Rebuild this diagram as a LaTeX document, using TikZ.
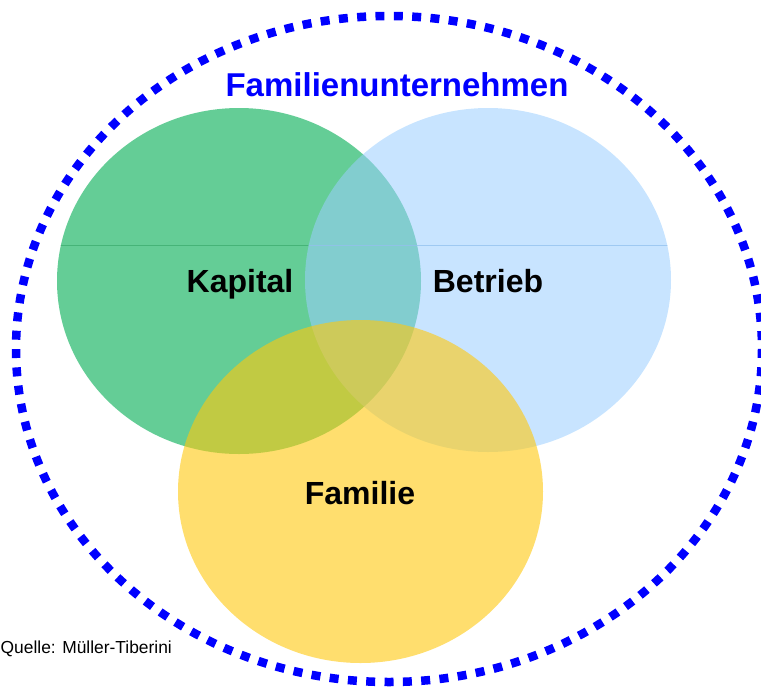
\documentclass[tikz,border=0pt]{standalone}
\usepackage{fontspec}
\setmainfont{Liberation Sans}
\definecolor{kapitalgreen}{RGB}{100,205,150}
\definecolor{kapitalline}{RGB}{70,180,120}
\definecolor{betriebblue}{RGB}{155,206,255}
\definecolor{betriebline}{RGB}{150,195,240}
\definecolor{familieyellow}{RGB}{255,200,13}
\definecolor{titleblue}{RGB}{0,0,255}
\tikzset{
  label/.style={font=\bfseries\fontsize{32}{38}\selectfont, text=black, anchor=base, inner sep=0pt},
  title/.style={font=\bfseries\fontsize{33}{38}\selectfont, text=titleblue, anchor=base, inner sep=0pt},
  source/.style={font=\fontsize{17.4}{21}\selectfont, text=black, anchor=base west, inner sep=0pt},
  rim/.style={draw=titleblue, line width=8.5pt, dash pattern=on 9pt off 9.35pt},
  seam/.style={line width=1pt}
}
\begin{document}
\begin{tikzpicture}[x=1pt,y=-1pt]
\useasboundingbox (0,0) rectangle (761,689);

% Kapital circle with its seam
\fill[kapitalgreen] (239,281) ellipse [x radius=182, y radius=173];
\begin{scope}
  \clip (239,281) ellipse [x radius=182, y radius=173];
  \draw[seam, kapitalline] (40,245.5) -- (440,245.5);
\end{scope}

% Betrieb circle with its seam
\fill[betriebblue, fill opacity=0.55] (488,280) ellipse [x radius=183, y radius=172];
\begin{scope}
  \clip (488,280) ellipse [x radius=183, y radius=172];
  \draw[seam, betriebline, opacity=0.8] (290,245.5) -- (690,245.5);
\end{scope}

% Familie circle
\fill[familieyellow, fill opacity=0.6] (360.5,491.5) ellipse [x radius=182.5, y radius=171.5];

% Dotted rim around the whole
\draw[rim] (389,349) ellipse [x radius=373, y radius=333];

% Texts
\node[title] (titel) at (397,96) {Familienunternehmen};
\node[label] (kapital) at (240,292) {Kapital};
\node[label] (betrieb) at (488,292) {Betrieb};
\node[label] (familie) at (360,504) {Familie};
\node[source] (quelle) at (0.5,653) {Quelle: Müller-Tiberini};
\end{tikzpicture}
\end{document}
